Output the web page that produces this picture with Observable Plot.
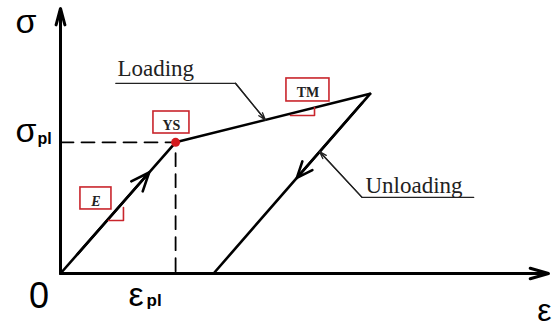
<!DOCTYPE html>
<html><head><meta charset="utf-8">
<script src="https://cdn.jsdelivr.net/npm/d3@7"></script>
<script src="https://cdn.jsdelivr.net/npm/@observablehq/plot@0.6"></script>
<style>body{margin:0;background:#fff}</style>
</head><body><div id="chart"></div>
<script>
// Key points of the stress–strain path (strain in units of ε_pl, stress in units of σ_pl)
const pointNames = ["origin", "yield", "peak", "residual"];
const strainValues = [0, 1.0, 2.69, 1.33];
const stressValues = [0, 1.0, 1.37, 0];
const axisEnds = [4.24, 2.02];            // strain-axis end, stress-axis end
const axisSymbols = ["ε", "σ"];
const plasticSymbols = ["ε", "σ"];
const plasticSubscript = "pl";
const originLabel = "0";
const curveLabels = ["Loading", "Unloading"];
const boxLabels = ["E", "YS", "TM"];

// Annotation anchors (data units)
const loadLeaderX = [0.48, 1.52, 1.78];
const loadLeaderY = [1.45, 1.45, 1.17];
const unloadLeaderX = [2.25, 2.62, 3.59];
const unloadLeaderY = [0.93, 0.58, 0.58];
const curveLabelX = [0.495, 2.65];
const curveLabelY = [1.502, 0.617];
const boxX = [0.308, 0.964, 2.150];
const boxY = [0.572, 1.151, 1.399];
const boxW = [31, 36, 43];
const boxH = [22, 22, 23];
const tickX = [[0.417, 0.547, 0.547], [1.998, 2.207, 2.207]];
const tickY = [[0.404, 0.404, 0.503], [1.204, 1.204, 1.265]];

const W = 553, H = 326, ML = 60, MR = 5, MT = 8, MB = 53;
const [xEnd, yEnd] = axisEnds;
const kx = (W - ML - MR) / xEnd, ky = (H - MT - MB) / yEnd;
const P = i => ({x: strainValues[i], y: stressValues[i]});
const along = (a, b, t) => ({x: a.x + (b.x - a.x) * t, y: a.y + (b.y - a.y) * t});
const epsPl = strainValues[1], sigPl = stressValues[1];

const loading = [P(0), P(1), P(2)];
const unloading = [P(2), P(3)];
const dashed = [{x: 0, y: sigPl}, {x: epsPl, y: sigPl}, {x: epsPl, y: 0}];
const pts = (xs, ys) => xs.map((x, i) => ({x, y: ys[i]}));
const loadLeader = pts(loadLeaderX, loadLeaderY);
const unloadLeader = pts(unloadLeaderX, unloadLeaderY);
const boxes = boxLabels.map((t, i) => ({
  t, x: boxX[i], y: boxY[i],
  x1: boxX[i] - boxW[i] / 2 / kx, x2: boxX[i] + boxW[i] / 2 / kx,
  y1: boxY[i] - boxH[i] / 2 / ky, y2: boxY[i] + boxH[i] / 2 / ky
}));
const red = "#c9252c";
const arr = (a, b) => [{x1: a.x, y1: a.y, x2: b.x, y2: b.y}];
const sans = "Liberation Sans, Arial, sans-serif";
const serif = "Liberation Serif, Times New Roman, serif";

const chart = Plot.plot({
  width: W, height: H,
  marginLeft: ML, marginRight: MR, marginTop: MT, marginBottom: MB,
  x: {domain: [0, xEnd], axis: null},
  y: {domain: [0, yEnd], axis: null},
  marks: [
    // axes
    Plot.arrow(arr({x: 0, y: 0}, {x: xEnd, y: 0}), {x1: "x1", y1: "y1", x2: "x2", y2: "y2", stroke: "#000", strokeWidth: 3, headLength: 9.5, headAngle: 32}),
    Plot.arrow(arr({x: 0, y: 0}, {x: 0, y: yEnd}), {x1: "x1", y1: "y1", x2: "x2", y2: "y2", stroke: "#000", strokeWidth: 3, headLength: 8.5, headAngle: 30}),
    // dashed guides
    Plot.line(dashed, {x: "x", y: "y", stroke: "#000", strokeWidth: 1.8, strokeDasharray: "13,8"}),
    // curves
    Plot.line(loading, {x: "x", y: "y", stroke: "#000", strokeWidth: 2.6, strokeLinejoin: "miter"}),
    Plot.line(unloading, {x: "x", y: "y", stroke: "#000", strokeWidth: 2.6}),
    // direction chevrons
    Plot.arrow(arr(along(P(0), P(1), 0.15), along(P(0), P(1), 0.77)), {x1: "x1", y1: "y1", x2: "x2", y2: "y2", stroke: "#000", strokeWidth: 2.6, headLength: 11.5, headAngle: 45}),
    Plot.arrow(arr(along(P(2), P(3), 0.05), along(P(2), P(3), 0.468)), {x1: "x1", y1: "y1", x2: "x2", y2: "y2", stroke: "#000", strokeWidth: 2.6, headLength: 10, headAngle: 45}),
    // leader lines
    Plot.line(loadLeader, {x: "x", y: "y", stroke: "#222", strokeWidth: 1.3}),
    Plot.arrow(arr(loadLeader[1], loadLeader[2]), {x1: "x1", y1: "y1", x2: "x2", y2: "y2", stroke: "#222", strokeWidth: 1.3, headLength: 9, headAngle: 35}),
    Plot.line(unloadLeader, {x: "x", y: "y", stroke: "#222", strokeWidth: 1.3}),
    Plot.arrow(arr(unloadLeader[1], unloadLeader[0]), {x1: "x1", y1: "y1", x2: "x2", y2: "y2", stroke: "#222", strokeWidth: 1.3, headLength: 9, headAngle: 35}),
    // yield point
    Plot.dot([P(1)], {x: "x", y: "y", r: 4.5, fill: "#d41a1f"}),
    // red boxes
    Plot.rect(boxes, {x1: "x1", x2: "x2", y1: "y1", y2: "y2", fill: "white", stroke: red, strokeWidth: 1.6}),
    Plot.line(pts(tickX[0], tickY[0]), {x: "x", y: "y", stroke: red, strokeWidth: 1.6}),
    Plot.line(pts(tickX[1], tickY[1]), {x: "x", y: "y", stroke: red, strokeWidth: 1.6}),
    Plot.text(boxes.slice(0, 1), {x: "x", y: "y", text: "t", fontFamily: serif, fontSize: 14, fontWeight: "bold", fontStyle: "italic", dy: 3, fill: "#222"}),
    Plot.text(boxes.slice(1), {x: "x", y: "y", text: "t", fontFamily: serif, fontSize: 14, fontWeight: "bold", dy: 3, fill: "#222"}),
    // curve labels
    Plot.text(curveLabels.map((t, i) => ({t, x: curveLabelX[i], y: curveLabelY[i]})), {x: "x", y: "y", text: "t", fontFamily: serif, fontSize: 23, textAnchor: "start", lineAnchor: "bottom", fill: "#222", letterSpacing: "1.2px"}),
    // axis symbols
    Plot.text([{x: 0, y: yEnd}], {x: "x", y: "y", text: () => axisSymbols[1], fontFamily: sans, fontSize: 34, textAnchor: "start", lineAnchor: "bottom", dx: -45, dy: 24}),
    Plot.text([{x: xEnd, y: 0}], {x: "x", y: "y", text: () => axisSymbols[0], fontFamily: sans, fontSize: 32, textAnchor: "end", lineAnchor: "bottom", dx: 3, dy: 47}),
    Plot.text([{x: 0, y: 0}], {x: "x", y: "y", text: () => originLabel, fontFamily: sans, fontSize: 36, textAnchor: "middle", lineAnchor: "bottom", dx: -21.5, dy: 34}),
    // plastic values
    Plot.text([{x: 0, y: sigPl}], {x: "x", y: "y", text: () => plasticSymbols[1], fontFamily: sans, fontSize: 34, textAnchor: "start", lineAnchor: "bottom", dx: -45, dy: 0}),
    Plot.text([{x: 0, y: sigPl}], {x: "x", y: "y", text: () => plasticSubscript, fontFamily: sans, fontSize: 16, fontWeight: "bold", textAnchor: "start", lineAnchor: "bottom", dx: -23, dy: 2}),
    Plot.text([{x: epsPl, y: 0}], {x: "x", y: "y", text: () => plasticSymbols[0], fontFamily: sans, fontSize: 34, textAnchor: "start", lineAnchor: "bottom", dx: -47, dy: 32}),
    Plot.text([{x: epsPl, y: 0}], {x: "x", y: "y", text: () => plasticSubscript, fontFamily: sans, fontSize: 17, fontWeight: "bold", textAnchor: "start", lineAnchor: "bottom", dx: -29, dy: 32})
  ]
});
chart.style.background = "#fff";
document.getElementById("chart").appendChild(chart);
</script>
</body></html>
